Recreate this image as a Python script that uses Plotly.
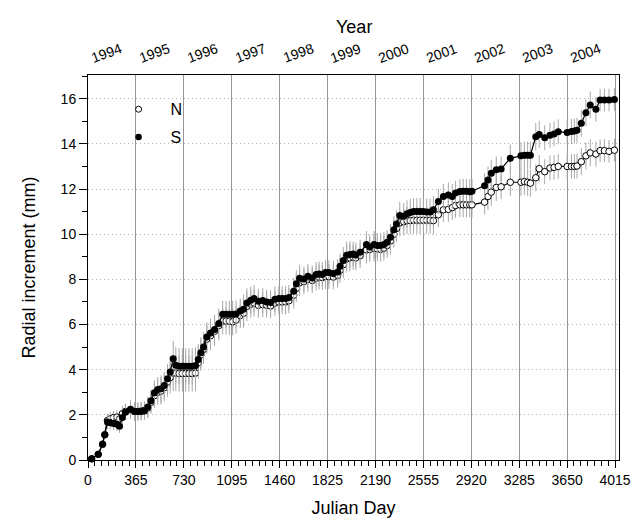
import plotly.graph_objects as go

# ---- data ----
days = [28, 78, 111, 128, 148, 170, 195, 220, 240, 262, 285, 324, 355, 380, 405, 430,
        455, 480, 506, 531, 556, 581, 606, 626, 649, 669, 694, 719, 744, 769, 794, 819,
        840, 860, 880, 905, 933, 964, 996, 1026, 1052, 1077, 1102, 1128, 1160, 1185, 1210,
        1240, 1265, 1298, 1331, 1361, 1391, 1424, 1454, 1479, 1505, 1530, 1567, 1587, 1612,
        1645, 1675, 1708, 1738, 1760, 1785, 1809, 1835, 1869, 1902, 1920, 1945, 1970, 1995,
        2020, 2040, 2073, 2121, 2146, 2179, 2204, 2229, 2254, 2279, 2304, 2330, 2350, 2375,
        2405, 2430, 2455, 2480, 2505, 2530, 2555, 2580, 2606, 2631, 2669, 2707, 2745, 2775,
        2800, 2833, 2858, 2883, 2908, 2925, 3021, 3047, 3072, 3110, 3147, 3217, 3298, 3324,
        3349, 3370, 3411, 3437, 3479, 3519, 3550, 3582, 3650, 3683, 3705, 3725, 3758, 3793,
        3826, 3869, 3901, 3934, 3969, 4010]

s_vals = [0.05, 0.25, 0.70, 1.12, 1.68, 1.65, 1.62, 1.58, 1.50, 1.88, 2.12, 2.25, 2.15, 2.15, 2.15, 2.17,
          2.35, 2.62, 2.98, 3.12, 3.15, 3.30, 3.60, 3.90, 4.48, 4.20, 4.15, 4.15, 4.15, 4.15, 4.15, 4.18,
          4.45, 4.75, 5.00, 5.45, 5.62, 5.78, 6.05, 6.45, 6.45, 6.45, 6.45, 6.47, 6.60, 6.68, 6.95,
          7.08, 7.15, 7.03, 7.06, 7.00, 6.97, 7.12, 7.15, 7.15, 7.15, 7.20, 7.47, 7.80, 8.05,
          8.02, 8.14, 8.06, 8.22, 8.24, 8.22, 8.30, 8.30, 8.26, 8.33, 8.58, 8.83, 9.07, 9.10,
          9.12, 9.08, 9.20, 9.54, 9.43, 9.54, 9.50, 9.50, 9.54, 9.64, 9.86, 10.20, 10.45, 10.83,
          10.79, 10.90, 10.96, 11.00, 11.00, 11.00, 11.00, 10.98, 10.98, 11.08, 11.45, 11.67, 11.74, 11.67,
          11.82, 11.89, 11.90, 11.90, 11.88, 11.90, 12.15, 12.40, 12.70, 12.85, 12.89, 13.36, 13.47, 13.50,
          13.50, 13.50, 14.32, 14.42, 14.27, 14.38, 14.44, 14.54, 14.50, 14.55, 14.57, 14.60, 14.91, 15.38,
          15.72, 15.53, 15.94, 15.94, 15.94, 15.97]

n_vals = [0.05, 0.25, 0.70, 1.12, 1.75, 1.82, 1.88, 1.90, 1.82, 2.05, 2.15, 2.22, 2.15, 2.15, 2.17, 2.20,
          2.30, 2.55, 2.85, 3.00, 3.05, 3.20, 3.45, 3.65, 3.85, 3.85, 3.83, 3.83, 3.83, 3.83, 3.83, 3.85,
          4.30, 4.65, 4.90, 5.35, 5.50, 5.70, 5.95, 6.15, 6.15, 6.15, 6.12, 6.20, 6.40, 6.50, 6.80,
          6.90, 6.95, 6.85, 6.88, 6.85, 6.82, 6.95, 7.00, 7.00, 7.00, 7.05, 7.30, 7.60, 7.85,
          7.90, 8.00, 7.95, 8.05, 8.10, 8.08, 8.12, 8.12, 8.10, 8.18, 8.40, 8.65, 8.90, 8.95,
          8.98, 8.95, 9.05, 9.30, 9.32, 9.38, 9.35, 9.33, 9.38, 9.50, 9.70, 10.00, 10.25, 10.50,
          10.55, 10.60, 10.60, 10.62, 10.62, 10.62, 10.62, 10.62, 10.62, 10.60, 10.86, 11.08, 11.10, 11.18,
          11.27, 11.30, 11.30, 11.30, 11.30, 11.30, 11.42, 11.67, 11.86, 12.07, 12.10, 12.30, 12.30, 12.33,
          12.30, 12.26, 12.50, 12.90, 12.77, 12.93, 12.96, 13.00, 13.00, 13.00, 13.00, 13.02, 13.21, 13.47,
          13.60, 13.55, 13.70, 13.70, 13.67, 13.72]

err = [0.05, 0.10, 0.15, 0.20, 0.30, 0.30, 0.30, 0.30, 0.30, 0.35, 0.35, 0.40, 0.40, 0.40, 0.40, 0.40,
       0.45, 0.50, 0.55, 0.55, 0.60, 0.60, 0.65, 0.70, 0.80, 0.80, 0.80, 0.80, 0.80, 0.80, 0.80, 0.80,
       0.70, 0.70, 0.65, 0.65, 0.65, 0.65, 0.65, 0.60, 0.60, 0.60, 0.60, 0.60, 0.55, 0.65, 0.65,
       0.60, 0.60, 0.55, 0.55, 0.55, 0.55, 0.55, 0.55, 0.55, 0.55, 0.55, 0.60, 0.60, 0.60,
       0.55, 0.55, 0.55, 0.55, 0.55, 0.55, 0.55, 0.55, 0.55, 0.55, 0.55, 0.60, 0.60, 0.60,
       0.55, 0.55, 0.55, 0.60, 0.55, 0.60, 0.55, 0.55, 0.55, 0.55, 0.60, 0.60, 0.60, 0.60,
       0.60, 0.60, 0.60, 0.60, 0.60, 0.60, 0.60, 0.60, 0.60, 0.60, 0.55, 0.55, 0.55, 0.55,
       0.55, 0.55, 0.55, 0.55, 0.55, 0.55, 0.55, 0.60, 0.60, 0.60, 0.55, 0.60, 0.60, 0.60,
       0.60, 0.60, 0.60, 0.60, 0.55, 0.55, 0.55, 0.55, 0.55, 0.55, 0.55, 0.55, 0.60, 0.60,
       0.60, 0.55, 0.50, 0.50, 0.50, 0.50]

years = ["1994", "1995", "1996", "1997", "1998", "1999", "2000", "2001", "2002", "2003", "2004"]
year_pos = [140, 505, 870, 1235, 1600, 1965, 2330, 2695, 3060, 3425, 3790]
x_ticks = [0, 365, 730, 1095, 1460, 1825, 2190, 2555, 2920, 3285, 3650, 4015]

FONT = "Liberation Sans, Arial, sans-serif"
bar = dict(type="data", color="#a8a8a8", thickness=1, width=0)

fig = go.Figure()
fig.add_trace(go.Scatter(
    x=days, y=n_vals, mode="lines+markers", name="N", showlegend=False,
    line=dict(color="black", width=1.2),
    marker=dict(symbol="circle", size=6.5, color="white", line=dict(color="black", width=1)),
    error_y=dict(array=err, **bar), cliponaxis=False))
fig.add_trace(go.Scatter(
    x=days, y=s_vals, mode="lines+markers", name="S", showlegend=False,
    line=dict(color="black", width=1.2),
    marker=dict(symbol="circle", size=7, color="black"),
    error_y=dict(array=err, **bar), cliponaxis=False))
# legend entries (markers only)
fig.add_trace(go.Scatter(x=[None], y=[None], mode="markers", name="N", legendgroup="n",
                         marker=dict(symbol="circle", size=6, color="white",
                                     line=dict(color="black", width=1))))
fig.add_trace(go.Scatter(x=[None], y=[None], mode="markers", name="S", legendgroup="s",
                         marker=dict(symbol="circle", size=6.5, color="black")))

for yr, pos in zip(years, year_pos):
    fig.add_annotation(x=pos, y=1.0, xref="x", yref="paper", yshift=37,
                       text=yr, showarrow=False, textangle=-20,
                       font=dict(family=FONT, size=14, color="black"))
fig.add_annotation(x=0.5, y=1.0, xref="paper", yref="paper", yshift=60,
                   text="Year", showarrow=False,
                   font=dict(family=FONT, size=18, color="black"))

fig.update_layout(
    width=643, height=526,
    margin=dict(l=88, r=19, t=75, b=65),
    plot_bgcolor="white", paper_bgcolor="white",
    font=dict(family=FONT, size=14, color="black"),
    legend=dict(x=0.035, y=0.955, xanchor="left", yanchor="top",
                bgcolor="rgba(0,0,0,0)", font=dict(size=16), itemwidth=54,
                tracegroupgap=4),
    xaxis=dict(range=[0, 4045], tickvals=x_ticks, ticktext=[str(v) for v in x_ticks],
               showgrid=True, gridcolor="#969696", gridwidth=1,
               showline=True, linecolor="black", linewidth=1, mirror=True,
               ticks="outside", ticklen=7, tickcolor="black",
               minor=dict(dtick=365 / 7, tick0=0, ticks="outside", ticklen=5, tickcolor="black", showgrid=False),
               zeroline=False,
               title=dict(text="Julian Day", font=dict(size=18), standoff=14),
               tickfont=dict(size=14)),
    yaxis=dict(range=[0, 17.05], tickvals=[0, 2, 4, 6, 8, 10, 12, 14, 16],
               showgrid=True, gridcolor="#b4b4b4", gridwidth=1, griddash="1px,3px",
               showline=True, linecolor="black", linewidth=1, mirror=True,
               ticks="outside", ticklen=8, tickcolor="black",
               minor=dict(dtick=1, ticks="outside", ticklen=5, tickcolor="black", showgrid=False),
               zeroline=False,
               title=dict(text="Radial increment (mm)", font=dict(size=18), standoff=20),
               tickfont=dict(size=14)),
)

fig.write_html("out.html")
